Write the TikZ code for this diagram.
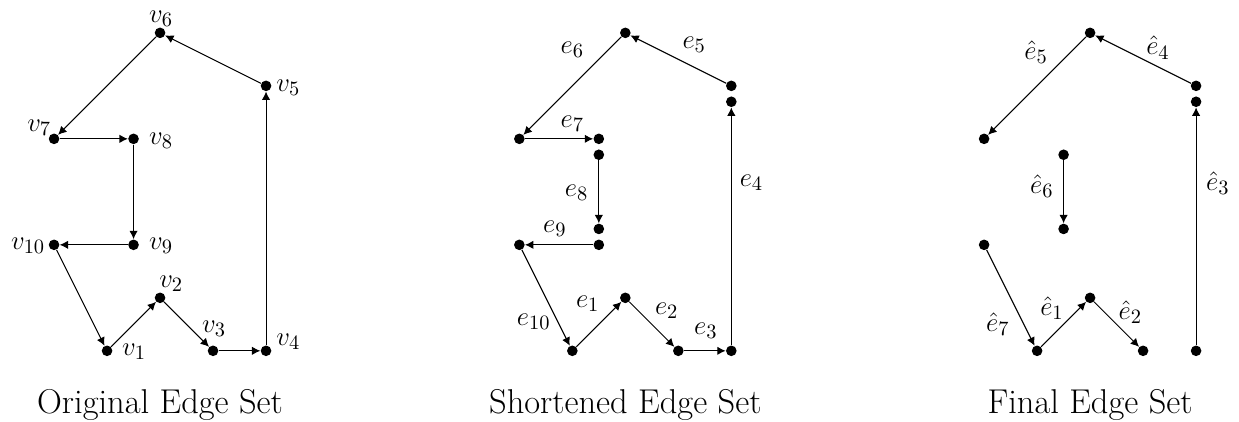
\documentclass[tikz,border=0pt]{standalone}
\usepackage{amsmath,amssymb}
\usepackage{tikz}
\usetikzlibrary{arrows.meta,positioning}
\tikzset{
  dot/.style={circle, fill=black, inner sep=0pt, minimum size=0.2cm},
  arr/.style={-{Latex[length=4.5pt,width=4.5pt]}, line width=0.55pt},
  lbl/.style={inner sep=0pt, font=\fontsize{15}{18}\selectfont},
  setname/.style={anchor=base, font=\fontsize{18.5}{22}\selectfont}
}

\begin{document}
\begin{tikzpicture}
  \useasboundingbox (-2.02,-1.34) rectangle (21.36,6.62);

  % original edge set
  \begin{scope}
    \foreach \n/\p in {1/{(0,0)},2/{(1,1)},3/{(2,0)},4/{(3,0)},5/{(3,5)},
        6/{(1,6)},7/{(-1,4)},8/{(0.5,4)},9/{(0.5,2)},10/{(-1,2)}}
      \node[dot] (a\n) at \p {};
    \draw[arr] (a10) -- (a1);
    \draw[arr] (a1) -- (a2);
    \draw[arr] (a2) -- (a3);
    \draw[arr] (a3) -- (a4);
    \draw[arr] (a4) -- (a5);
    \draw[arr] (a5) -- (a6);
    \draw[arr] (a6) -- (a7);
    \draw[arr] (a7) -- (a8);
    \draw[arr] (a8) -- (a9);
    \draw[arr] (a9) -- (a10);
    \node[lbl] (va1) at (0.51,-0.02) {$v_1$};
    \node[lbl] (va2) at (1.21,1.26) {$v_2$};
    \node[lbl] (va3) at (2.02,0.42) {$v_3$};
    \node[lbl] (va4) at (3.42,0.17) {$v_4$};
    \node[lbl] (va5) at (3.42,4.96) {$v_5$};
    \node[lbl] (va6) at (1.02,6.26) {$v_6$};
    \node[lbl] (va7) at (-1.28,4.21) {$v_7$};
    \node[lbl] (va8) at (1.02,3.96) {$v_8$};
    \node[lbl] (va9) at (1.02,1.98) {$v_9$};
    \node[lbl] (va10) at (-1.49,1.98) {$v_{10}$};
    \node[setname] (capa) at (1,-1.19) {Original Edge Set};
  \end{scope}

  % shortened edge set
  \begin{scope}[xshift=8.78cm]
    \foreach \n/\p in {1/{(0,0)},2/{(1,1)},3/{(2,0)},4/{(3,0)},5/{(3,5)},
        6/{(1,6)},7/{(-1,4)},8/{(0.5,4)},9/{(0.5,2)},10/{(-1,2)},
        5s/{(3,4.7)},8s/{(0.5,3.7)},9s/{(0.5,2.3)}}
      \node[dot] (b\n) at \p {};
    \draw[arr] (b10) -- (b1);
    \draw[arr] (b1) -- (b2);
    \draw[arr] (b2) -- (b3);
    \draw[arr] (b3) -- (b4);
    \draw[arr] (b4) -- (b5s);
    \draw[arr] (b5) -- (b6);
    \draw[arr] (b6) -- (b7);
    \draw[arr] (b7) -- (b8);
    \draw[arr] (b8s) -- (b9s);
    \draw[arr] (b9) -- (b10);
    \node[lbl] (eb1) at (0.29,0.89) {$e_1$};
    \node[lbl] (eb2) at (1.78,0.75) {$e_2$};
    \node[lbl] (eb3) at (2.52,0.38) {$e_3$};
    \node[lbl] (eb4) at (3.38,3.17) {$e_4$};
    \node[lbl] (eb5) at (2.30,5.77) {$e_5$};
    \node[lbl] (eb6) at (0.0,5.68) {$e_6$};
    \node[lbl] (eb7) at (0.0,4.28) {$e_7$};
    \node[lbl] (eb8) at (0.08,2.98) {$e_8$};
    \node[lbl] (eb9) at (-0.33,2.30) {$e_9$};
    \node[lbl] (eb10) at (-0.73,0.55) {$e_{10}$};
    \node[setname] (capb) at (1,-1.19) {Shortened Edge Set};
  \end{scope}

  % final edge set
  \begin{scope}[xshift=17.55cm]
    \foreach \n/\p in {1/{(0,0)},2/{(1,1)},3/{(2,0)},4/{(3,0)},5/{(3,5)},
        6/{(1,6)},7/{(-1,4)},10/{(-1,2)},
        5s/{(3,4.7)},8s/{(0.5,3.7)},9s/{(0.5,2.3)}}
      \node[dot] (c\n) at \p {};
    \draw[arr] (c1) -- (c2);
    \draw[arr] (c2) -- (c3);
    \draw[arr] (c4) -- (c5s);
    \draw[arr] (c5) -- (c6);
    \draw[arr] (c6) -- (c7);
    \draw[arr] (c8s) -- (c9s);
    \draw[arr] (c10) -- (c1);
    \node[lbl] (ec1) at (0.28,0.81) {$\hat{e}_1$};
    \node[lbl] (ec2) at (1.76,0.72) {$\hat{e}_2$};
    \node[lbl] (ec3) at (3.41,3.17) {$\hat{e}_3$};
    \node[lbl] (ec4) at (2.28,5.72) {$\hat{e}_4$};
    \node[lbl] (ec5) at (-0.02,5.64) {$\hat{e}_5$};
    \node[lbl] (ec6) at (0.09,3.11) {$\hat{e}_6$};
    \node[lbl] (ec7) at (-0.74,0.51) {$\hat{e}_7$};
    \node[setname] (capc) at (1,-1.19) {Final Edge Set};
  \end{scope}
\end{tikzpicture}
\end{document}
